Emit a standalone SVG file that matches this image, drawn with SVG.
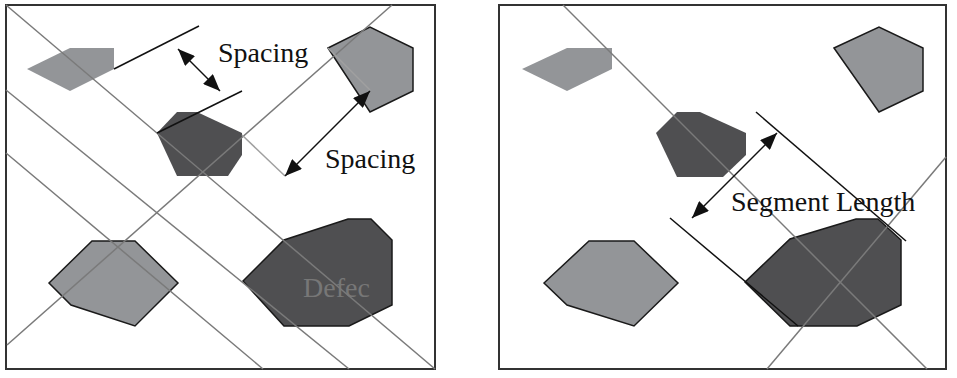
<svg xmlns="http://www.w3.org/2000/svg" width="957" height="378" viewBox="0 0 957 378">
  <defs>
    <marker id="ah" markerWidth="17" markerHeight="14" refX="17" refY="7" orient="auto-start-reverse" markerUnits="userSpaceOnUse">
      <path d="M0,0 L17,7 L0,14 z" fill="#111"/>
    </marker>
    <style>
      .frame{fill:#fff;stroke:#333;stroke-width:2}
      .lg{fill:#939598}
      .dk{fill:#4f4f51}
      .stk{stroke:#1a1a1a;stroke-width:1.5;stroke-linejoin:miter}
      .gl{stroke:#7a7a7a;stroke-width:1.5;fill:none}
      .gl2{stroke:#a0a0a0;stroke-width:1.5;fill:none}
      .bl{stroke:#111;stroke-width:1.5;fill:none}
      .arr{stroke:#111;stroke-width:1.5;fill:none;marker-start:url(#ah);marker-end:url(#ah)}
      .lbl{font-family:"Liberation Serif","Times New Roman",serif;font-size:28px;fill:#111}
      .dlbl{font-family:"Liberation Serif","Times New Roman",serif;font-size:28px;fill:#777}
    </style>
  </defs>
  <rect width="957" height="378" fill="#fff"/>
  <g id="panel-left">
    <rect class="frame" x="6" y="5" width="429" height="364"/>
  </g>
  <g id="panel-right">
    <rect class="frame" x="499" y="5" width="447" height="364"/>
  </g>

  <g id="left-shape-1"><polygon class="lg" points="27,69 70,48 114,48 114,69 70,91"/></g>
  <g id="left-shape-2"><polygon class="dk" points="157,133 177,112 197,112 242,133 242,155 228,176 177,176"/></g>
  <g id="left-shape-3"><polygon class="lg stk" points="328,48 370,27 413,48 413,91 370,112"/></g>
  <g id="left-shape-4"><polygon class="lg stk" points="49,283 92,241 135,241 178,283 135,326 71,305"/></g>
  <g id="left-shape-5">
    <polygon class="dk stk" points="243,281 284,240 348,219 371,219 392,240 392,305 349,326 284,326"/>
    <text class="dlbl" x="303" y="297">Defec</text>
  </g>

  <g id="right-shape-1"><polygon class="lg" points="522,69 567,48 612,48 612,69 567,91"/></g>
  <g id="right-shape-2"><polygon class="dk" points="656,133 677,112 700,112 746,133 746,155 723,177 677,177"/></g>
  <g id="right-shape-3"><polygon class="lg stk" points="834,48 879,27 923,48 923,91 879,112"/></g>
  <g id="right-shape-4"><polygon class="lg stk" points="544,283 589,241 634,241 678,283 634,326 567,305"/></g>
  <g id="right-shape-5"><polygon class="dk stk" points="745,282 790,239 856,219 878,219 901,240 901,305 857,326 790,326"/></g>

  <g id="connectors">
    <line class="gl" x1="6" y1="5" x2="435" y2="369"/>
    <line class="gl" x1="6" y1="90" x2="349" y2="369"/>
    <line class="gl" x1="6" y1="153" x2="263" y2="369"/>
    <line class="gl" x1="7" y1="345" x2="392" y2="5"/>
    <line class="gl2" x1="242" y1="135" x2="285" y2="176"/>
    <line class="gl2" x1="328" y1="48" x2="370" y2="90"/>
    <line class="bl" x1="114" y1="69" x2="199" y2="26"/>
    <line class="bl" x1="157" y1="133" x2="242" y2="91"/>
    <line class="arr" x1="178" y1="49" x2="220" y2="91"/>
    <line class="arr" x1="285" y1="176" x2="370" y2="91"/>

    <line class="gl" x1="563" y1="5" x2="927" y2="369"/>
    <line class="gl" x1="946" y1="157" x2="767" y2="369"/>
    <line class="bl" x1="756" y1="112" x2="906" y2="241"/>
    <line class="bl" x1="670" y1="218" x2="798" y2="326"/>
    <line class="arr" x1="692" y1="218" x2="777" y2="133"/>
  </g>

  <g id="labels">
    <text class="lbl" x="218" y="62">Spacing</text>
    <text class="lbl" x="325" y="168">Spacing</text>
    <text class="lbl" x="731" y="211">Segment Length</text>
  </g>
</svg>
